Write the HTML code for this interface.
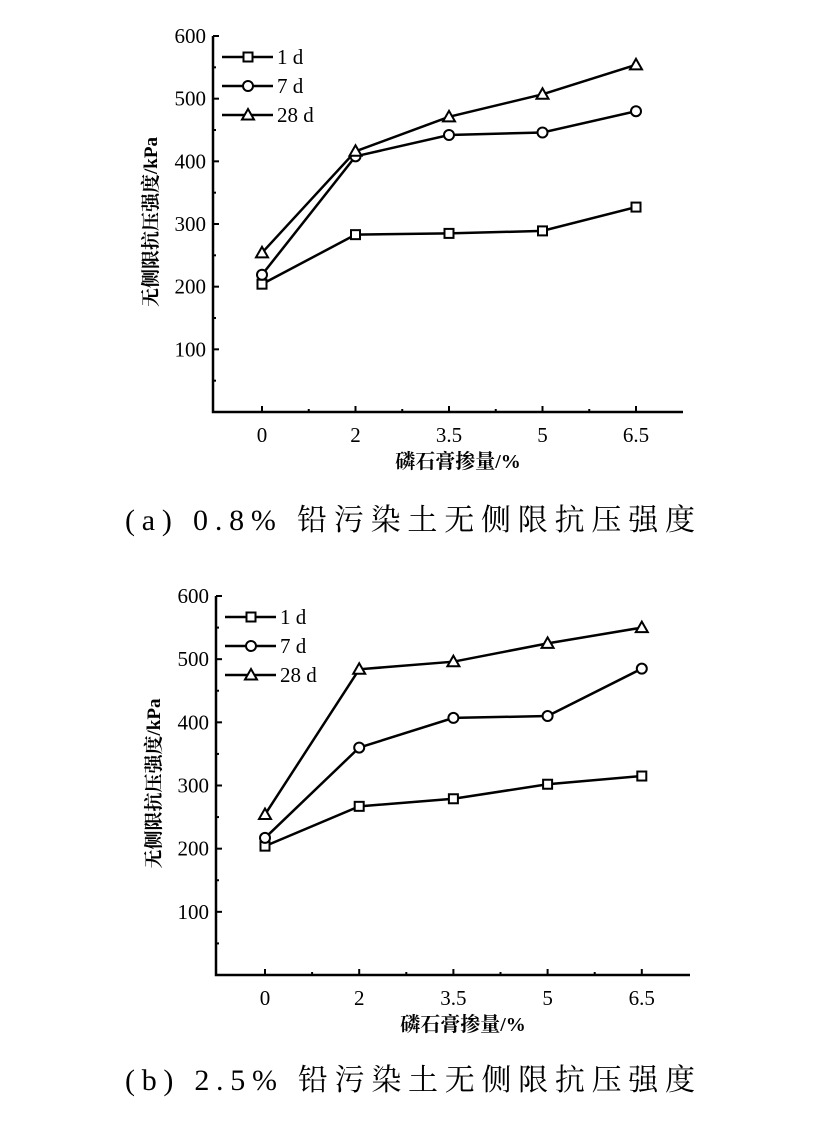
<!DOCTYPE html>
<html><head><meta charset="utf-8"><style>
body{margin:0;background:#fff;width:829px;height:1117px;overflow:hidden}
svg text{font-family:"Liberation Serif","Noto Serif CJK SC",serif;fill:#000}
</style></head><body>
<svg id="s" width="829" height="1117"></svg>
<script>
const cats=["0","2","3.5","5","6.5"];
const yTicks=[100,200,300,400,500,600];
const a1=[204,283,285,289,327];
const a7=[219,408,442,446,480];
const a28=[254,416,471,507,554];
const b1=[204,267,279,302,315];
const b7=[217,360,407,410,485];
const b28=[254,484,496,525,550];
const legendLabels=["1 d","7 d","28 d"];
const NS="http://www.w3.org/2000/svg";
const svg=document.getElementById('s');
function el(t,at,p){const e=document.createElementNS(NS,t);for(const k in at)e.setAttribute(k,at[k]);(p||svg).appendChild(e);return e;}
function chart(cfg,series,caption,nm){
 const g=el('g',{});
 
 
 const {x0,x1,yTop,yBot,cx0,dx}=cfg;
 const ys=v=>yBot-(v/600)*(yBot-yTop);
 const xs=i=>cx0+i*dx;
 const ax=el('path',{d:`M${x0},${yTop} L${x0},${yBot} L${x1},${yBot}`,fill:'none',stroke:'#000','stroke-width':2.5},g);
 
 
 for(let v=50;v<=600;v+=50){const major=v%100==0;el('line',{x1:x0,x2:x0+(major?6:3),y1:ys(v),y2:ys(v),stroke:'#000','stroke-width':2},g);}
 yTicks.forEach(v=>{const t=el('text',{x:x0-7,y:ys(v)+7,'text-anchor':'end','font-size':21},g);t.textContent=v;
  });
 cats.forEach((c,i)=>{el('line',{x1:xs(i),x2:xs(i),y1:yBot,y2:yBot-6,stroke:'#000','stroke-width':2},g);
  if(i<cats.length-1)el('line',{x1:xs(i)+dx/2,x2:xs(i)+dx/2,y1:yBot,y2:yBot-3,stroke:'#000','stroke-width':2},g);
  const t=el('text',{x:xs(i),y:yBot+30,'text-anchor':'middle','font-size':21},g);t.textContent=c;
  });
 const xt=el('text',{x:(x0+x1)/2+10,y:yBot+56,'text-anchor':'middle','font-size':20,'font-weight':'bold'},g);xt.textContent='磷石膏掺量/%';
 
 const ymid=(yTop+yBot)/2;
 const yt=el('text',{x:0,y:0,'text-anchor':'middle','font-size':19,'font-weight':'bold',transform:`translate(${x0-56},${ymid-2}) rotate(-90)`},g);yt.textContent='无侧限抗压强度/kPa';
 
 const shapes=['sq','ci','tr'];
 function marker(sh,x,y,p){
  if(sh=='sq')return el('rect',{x:x-4.5,y:y-4.5,width:9,height:9,fill:'#fff',stroke:'#000','stroke-width':2},p);
  if(sh=='ci')return el('circle',{cx:x,cy:y,r:5,fill:'#fff',stroke:'#000','stroke-width':2},p);
  return el('path',{d:`M${x},${y-6} L${x+6},${y+4.5} L${x-6},${y+4.5}Z`,fill:'#fff',stroke:'#000','stroke-width':2},p);
 }
 series.forEach((s,k)=>{
  const pts=s.map((v,i)=>xs(i)+','+ys(v)).join(' ');
  const l=el('polyline',{points:pts,fill:'none',stroke:'#000','stroke-width':2.5},g);
  
  
  s.forEach((v,i)=>{const m=marker(shapes[k],xs(i),ys(v),g);
   });
  const ly=yTop+21+k*29;
  const lg=el('g',{},g);
  
  el('line',{x1:x0+9,x2:x0+60,y1:ly,y2:ly,stroke:'#000','stroke-width':2.5},lg);
  marker(shapes[k],x0+35,ly,lg);
  const t=el('text',{x:x0+64,y:ly+7,'font-size':21},lg);t.textContent=legendLabels[k];
 });
 const c=el('text',{x:125,y:cfg.capY,'font-size':30,textLength:570,lengthAdjust:'spacing','font-family':'"Noto Serif CJK SC",serif'},g);c.textContent=caption;
 
}
chart({x0:213,x1:683,yTop:36,yBot:412,cx0:262,dx:93.5,capY:530},[a1,a7,a28],'(a) 0.8% 铅污染土无侧限抗压强度','chart-a');
chart({x0:216,x1:690,yTop:596,yBot:975,cx0:265,dx:94.2,capY:1090},[b1,b7,b28],'(b) 2.5% 铅污染土无侧限抗压强度','chart-b');
</script>
</body></html>
